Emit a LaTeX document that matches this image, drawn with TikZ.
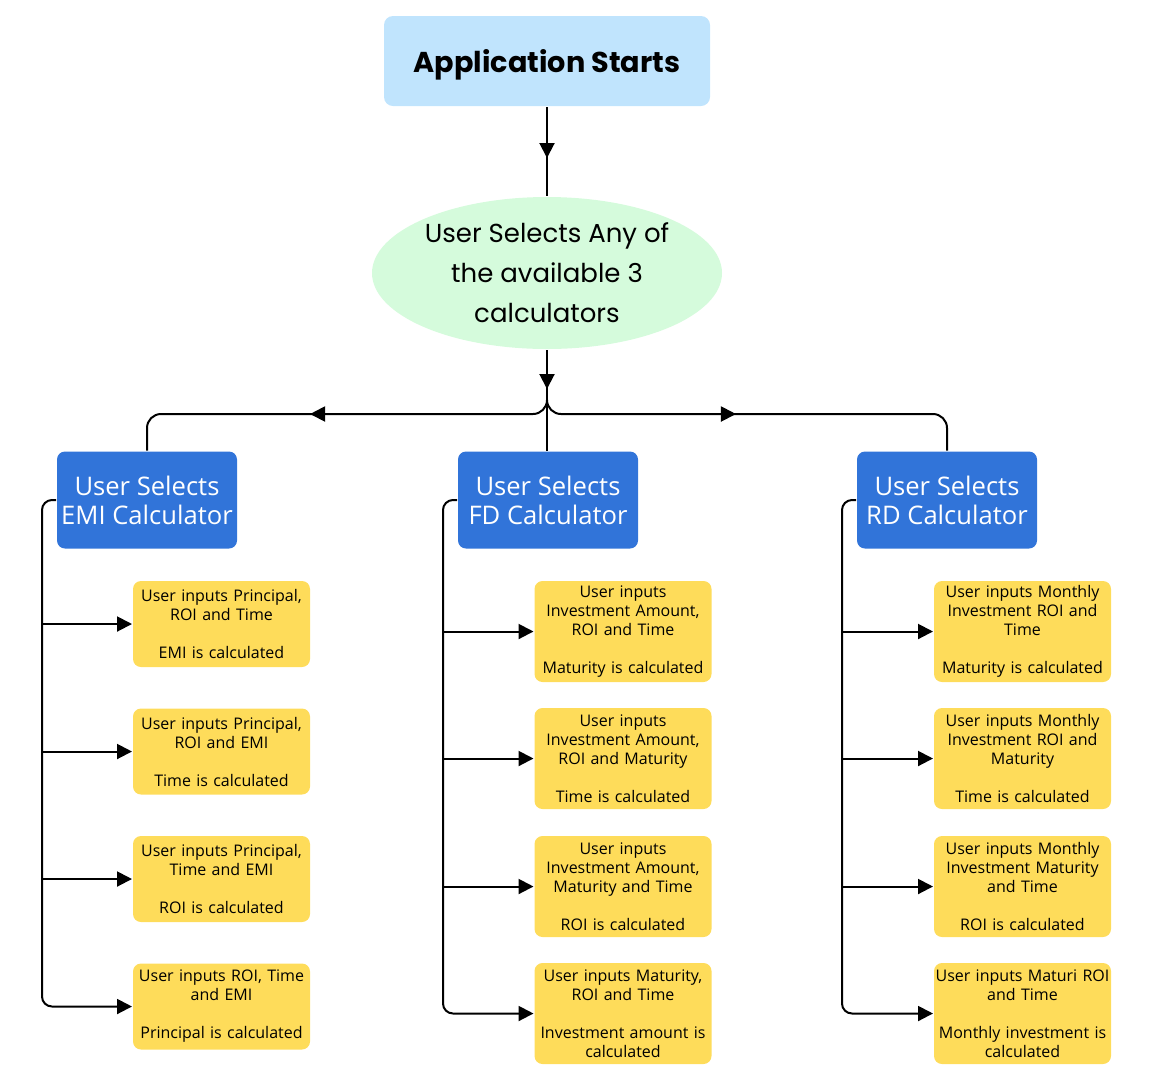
\documentclass[tikz,border=0pt]{standalone}
\usepackage{fontspec}
\setmainfont{Open Sans}
\newfontfamily\headfont{Poppins}
\usetikzlibrary{arrows.meta, positioning, shapes.geometric, decorations.markings}
\definecolor{startblue}{HTML}{C0E4FD}
\definecolor{choicegreen}{HTML}{D5FBDC}
\definecolor{calcblue}{HTML}{3174D9}
\definecolor{stepyellow}{HTML}{FEDC5A}

\begin{document}
\begin{tikzpicture}[x=1pt,y=-1pt,line width=2pt,>={Triangle[length=15pt,width=15pt]}]
  \tikzset{start box/.style={fill=startblue,rounded corners=9pt,minimum width=326pt,minimum height=90pt,
      text depth=0pt,font=\headfont\bfseries\fontsize{28.7}{34}\selectfont}}
  \tikzset{choice/.style={ellipse,fill=choicegreen,minimum width=350pt,minimum height=152pt,inner sep=0,
      align=center,font=\headfont\fontsize{26}{40}\selectfont}}
  \tikzset{calc box/.style={fill=calcblue,text=white,rounded corners=8pt,minimum width=180pt,minimum height=97pt,
      align=center,inner sep=0,font=\fontsize{25.6}{29}\selectfont}}
  \tikzset{stepbox/.style={fill=stepyellow,rounded corners=8pt,text width=175pt,inner xsep=1pt,inner ysep=0,
      minimum height=#1,align=center,font=\fontsize{16}{19}\selectfont}}
  \tikzset{midarrow/.style={postaction={decorate,decoration={markings,
      mark=at position #1 with {\arrow{Triangle[length=15pt,width=15pt]}}}}}}
  \useasboundingbox (0,0) rectangle (1155,1080);
  % top of the chart
  \node[start box](start) at (547,61) {Application Starts};
  \node[choice](pick) at (547,273) {User Selects Any of\\the available 3\\calculators};
  \coordinate (forktop) at (547,400);
  \coordinate (fork) at (547,414);
  % the three calculators
  \node[calc box](emi) at (147,500) {User Selects\\EMI Calculator};
  \node[calc box](fd) at (548,500) {User Selects\\FD Calculator};
  \node[calc box](rd) at (947,500) {User Selects\\RD Calculator};
  % EMI steps
  \node[stepbox=86pt](e1) at (221.5,624) {User inputs Principal,\\ROI and Time\\[19pt]EMI is calculated};
  \node[stepbox=86pt](e2) at (221.5,751.5) {User inputs Principal,\\ROI and EMI\\[19pt]Time is calculated};
  \node[stepbox=86pt](e3) at (221.5,879) {User inputs Principal,\\Time and EMI\\[19pt]ROI is calculated};
  \node[stepbox=86pt](e4) at (221.5,1006.5) {User inputs ROI, Time\\and EMI\\[19pt]Principal is calculated};
  % FD steps
  \node[stepbox=101pt](f1) at (623,631.5) {User inputs\\Investment Amount,\\ROI and Time\\[19pt]Maturity is calculated};
  \node[stepbox=101pt](f2) at (623,758.5) {User inputs\\Investment Amount,\\ROI and Maturity\\[19pt]Time is calculated};
  \node[stepbox=101pt](f3) at (623,886.5) {User inputs\\Investment Amount,\\Maturity and Time\\[19pt]ROI is calculated};
  \node[stepbox=101pt](f4) at (623,1013.5) {User inputs Maturity,\\ROI and Time\\[19pt]Investment amount is\\calculated};
  % RD steps
  \node[stepbox=101pt](r1) at (1022.5,631.5) {User inputs Monthly\\Investment ROI and\\Time\\[19pt]Maturity is calculated};
  \node[stepbox=101pt](r2) at (1022.5,758.5) {User inputs Monthly\\Investment ROI and\\Maturity\\[19pt]Time is calculated};
  \node[stepbox=101pt](r3) at (1022.5,886.5) {User inputs Monthly\\Investment Maturity\\and Time\\[19pt]ROI is calculated};
  \node[stepbox=101pt](r4) at (1022.5,1013.5) {User inputs Maturi ROI\\and Time\\[19pt]Monthly investment is\\calculated};
  % flow
  \draw[midarrow=51pt] (start) -- (pick);
  \draw[midarrow=39pt] (pick) -- (fork) -- (fork |- fd.north);
  \draw[rounded corners=14pt,midarrow=245pt] (forktop) |- (emi.north |- fork) -- (emi);
  \draw[rounded corners=14pt,midarrow=197pt] (forktop) |- (rd.north |- fork) -- (rd);
  % spines
  \coordinate (spineE) at (42,500);
  \coordinate (spineF) at (443,500);
  \coordinate (spineR) at (842,500);
  \draw[rounded corners=10pt,->] (emi.west) -- (spineE) |- (e4.west);
  \draw[rounded corners=10pt,->] (fd.west) -- (spineF) |- (f4.west);
  \draw[rounded corners=10pt,->] (rd.west) -- (spineR) |- (r4.west);
  \foreach \s in {e1,e2,e3} \draw[->] (spineE |- \s.west) -- (\s.west);
  \foreach \s in {f1,f2,f3} \draw[->] (spineF |- \s.west) -- (\s.west);
  \foreach \s in {r1,r2,r3} \draw[->] (spineR |- \s.west) -- (\s.west);
\end{tikzpicture}
\end{document}
